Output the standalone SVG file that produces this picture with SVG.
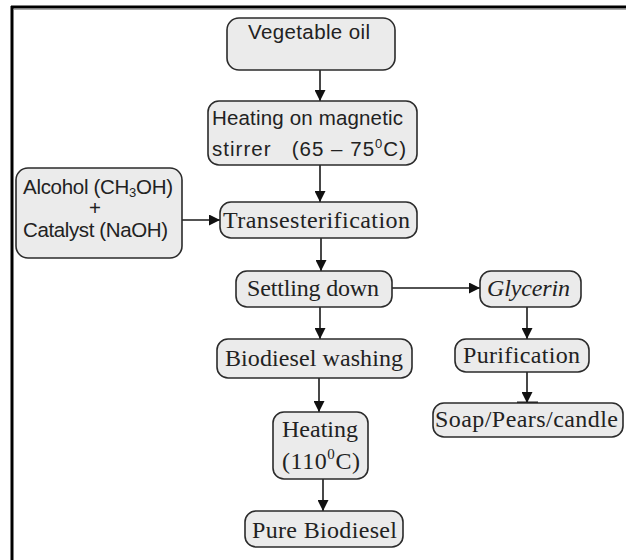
<svg xmlns="http://www.w3.org/2000/svg" width="626" height="560" viewBox="0 0 626 560">
<style>
.box{fill:#ebebeb;stroke:#2b2b2b;stroke-width:1.6}
.sans{font-family:"Liberation Sans","Noto Sans",Arial,sans-serif;font-size:20.5px;fill:#222}
.serif{font-family:"Liberation Serif","Times New Roman",serif;font-size:24px;fill:#222}
.conn{stroke:#1a1a1a;stroke-width:1.6;fill:none}
</style>
<defs>
<marker id="ah" viewBox="0 0 10 10" refX="10" refY="5" markerWidth="11" markerHeight="11" markerUnits="userSpaceOnUse" orient="auto">
<path d="M0,0 L10,5 L0,10 Z" fill="#111"/>
</marker>
</defs>
<rect width="626" height="560" fill="#fff"/>
<g id="frame">
<line x1="12" y1="6" x2="12" y2="560" stroke="#000" stroke-width="3"/>
<line x1="11" y1="7" x2="626" y2="7" stroke="#000" stroke-width="3"/>
<line x1="14" y1="9.5" x2="626" y2="9.5" stroke="#aaa" stroke-width="1"/>
</g>
<g id="connectors">
<line class="conn" x1="320" y1="70" x2="320" y2="101" marker-end="url(#ah)"/>
<line class="conn" x1="320" y1="165" x2="320" y2="202" marker-end="url(#ah)"/>
<line class="conn" x1="182" y1="220" x2="220" y2="220" marker-end="url(#ah)"/>
<line class="conn" x1="321" y1="238" x2="321" y2="271" marker-end="url(#ah)"/>
<line class="conn" x1="392" y1="288" x2="480" y2="288" marker-end="url(#ah)"/>
<line class="conn" x1="320" y1="307" x2="320" y2="339" marker-end="url(#ah)"/>
<line class="conn" x1="527" y1="307" x2="527" y2="339" marker-end="url(#ah)"/>
<line class="conn" x1="319" y1="378" x2="319" y2="412" marker-end="url(#ah)"/>
<line class="conn" x1="527" y1="372" x2="527" y2="403" marker-end="url(#ah)"/>
<line x1="517" y1="402.5" x2="538" y2="402.5" stroke="#1a1a1a" stroke-width="2"/>
<line class="conn" x1="323" y1="478" x2="323" y2="511" marker-end="url(#ah)"/>
</g>
<g id="vegetable-oil">
<rect class="box" x="227" y="18" width="168" height="52" rx="12"/>
<text class="sans" x="248" y="39" textLength="122" lengthAdjust="spacing">Vegetable oil</text>
</g>
<g id="heating-stirrer">
<rect class="box" x="208" y="101" width="209" height="64" rx="11"/>
<text class="sans" x="212" y="125" textLength="191" lengthAdjust="spacing">Heating on magnetic</text>
<text class="sans" x="212" y="156" style="white-space:pre" textLength="194" lengthAdjust="spacing">stirrer   (65 – 75<tspan font-size="13" dy="-8">0</tspan><tspan dy="8">C)</tspan></text>
</g>
<g id="alcohol-catalyst">
<rect class="box" x="16" y="168" width="166" height="90" rx="12"/>
<text class="sans" x="23" y="194" textLength="150" lengthAdjust="spacing">Alcohol (CH<tspan font-size="13" dy="3">3</tspan><tspan dy="-3">OH)</tspan></text>
<text class="sans" x="95" y="215" text-anchor="middle">+</text>
<text class="sans" x="23" y="237" textLength="145" lengthAdjust="spacing">Catalyst (NaOH)</text>
</g>
<g id="transesterification">
<rect class="box" x="220" y="202" width="197" height="36" rx="11"/>
<text class="serif" x="223" y="228" textLength="187" lengthAdjust="spacing">Transesterification</text>
</g>
<g id="settling-down">
<rect class="box" x="236" y="271" width="156" height="36" rx="11"/>
<text class="serif" x="247" y="296" textLength="132" lengthAdjust="spacing">Settling down</text>
</g>
<g id="glycerin">
<rect class="box" x="480" y="271" width="101" height="36" rx="11"/>
<text class="serif" x="487" y="296" font-style="italic" textLength="83" lengthAdjust="spacing">Glycerin</text>
</g>
<g id="biodiesel-washing">
<rect class="box" x="217" y="339" width="195" height="39" rx="11"/>
<text class="serif" x="225" y="366" textLength="178" lengthAdjust="spacing">Biodiesel washing</text>
</g>
<g id="purification">
<rect class="box" x="455" y="339" width="134" height="33" rx="11"/>
<text class="serif" x="463" y="363" textLength="117" lengthAdjust="spacing">Purification</text>
</g>
<g id="soap-pears-candle">
<rect class="box" x="433" y="403" width="190" height="34" rx="11"/>
<text class="serif" x="435" y="427" textLength="183" lengthAdjust="spacing">Soap/Pears/candle</text>
</g>
<g id="heating-110">
<rect class="box" x="273" y="412" width="95" height="67" rx="11"/>
<text class="serif" x="282" y="437" textLength="76" lengthAdjust="spacing">Heating</text>
<text class="serif" x="282" y="469" textLength="78" lengthAdjust="spacing">(110<tspan font-size="15" dy="-10">0</tspan><tspan dy="10">C)</tspan></text>
</g>
<g id="pure-biodiesel">
<rect class="box" x="245" y="511" width="158" height="36" rx="11"/>
<text class="serif" x="252" y="538" textLength="145" lengthAdjust="spacing">Pure Biodiesel</text>
</g>
</svg>
